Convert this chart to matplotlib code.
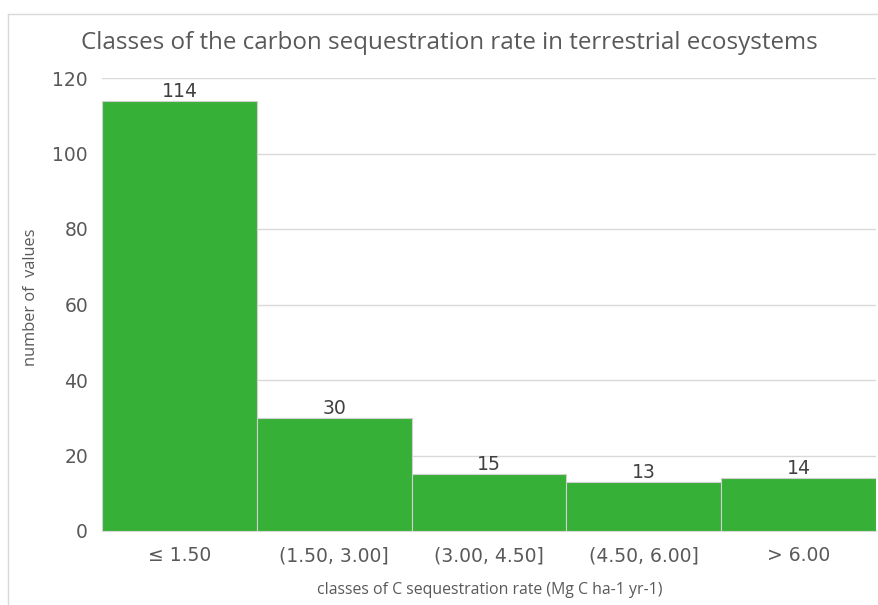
import matplotlib
matplotlib.use("Agg")
import matplotlib.pyplot as plt
from matplotlib.lines import Line2D

plt.rcParams["font.family"] = ["DejaVu Sans"]

categories = ["\u2264 1.50", "(1.50, 3.00]", "(3.00, 4.50]", "(4.50, 6.00]", "> 6.00"]
counts = [114, 30, 15, 13, 14]
y_ticks = [0, 20, 40, 60, 80, 100, 120]

bar_color = "#36B037"
grid_color = "#D9D9D9"
text_color = "#595959"

fig = plt.figure(figsize=(8.79, 6.05), dpi=100)
ax = fig.add_axes([102 / 879, 1 - 531 / 605, (876 - 102) / 879, (531 - 78) / 605])

# outer chart frame (top and left edges visible)
fig.add_artist(Line2D([8 / 879, 8 / 879], [0, 1 - 14 / 605], transform=fig.transFigure,
                      color=grid_color, lw=1))
fig.add_artist(Line2D([8 / 879, 1], [1 - 14 / 605, 1 - 14 / 605], transform=fig.transFigure,
                      color=grid_color, lw=1))

x = list(range(len(categories)))
bars = ax.bar(x, counts, width=1.0, color=bar_color, edgecolor="#D0D0D0", linewidth=0.8, zorder=3)
ax.bar_label(bars, labels=[str(c) for c in counts], padding=0, fontsize=13.6,
             color="#404040")

ax.set_xlim(-0.5, len(categories) - 0.5)
ax.set_ylim(0, 120)
ax.set_yticks(y_ticks, labels=[str(v) for v in y_ticks])
ax.set_xticks(x, labels=categories)
ax.tick_params(axis="both", length=0, labelsize=13.5, labelcolor=text_color)
ax.tick_params(axis="y", pad=10)
ax.tick_params(axis="x", pad=11)

ax.grid(axis="y", color=grid_color, lw=1, zorder=0)
for s in ["top", "right", "left"]:
    ax.spines[s].set_visible(False)
ax.spines["bottom"].set_color(grid_color)

ax.set_ylabel("number of  values", fontsize=11.8, color=text_color, family="Open Sans")
ax.yaxis.set_label_coords((39 - 102) / 774, 0.515)
ax.set_xlabel("classes of C sequestration rate (Mg C ha-1 yr-1)", fontsize=11.4,
              color=text_color, family="Open Sans")
ax.xaxis.set_label_coords(0.501, (531 - 582) / 453)

fig.text(449 / 879, 1 - 43 / 605, "Classes of the carbon sequestration rate in terrestrial ecosystems",
         ha="center", va="center", fontsize=17.4, color=text_color, family="Open Sans")

fig.savefig("out.png", dpi=100)
